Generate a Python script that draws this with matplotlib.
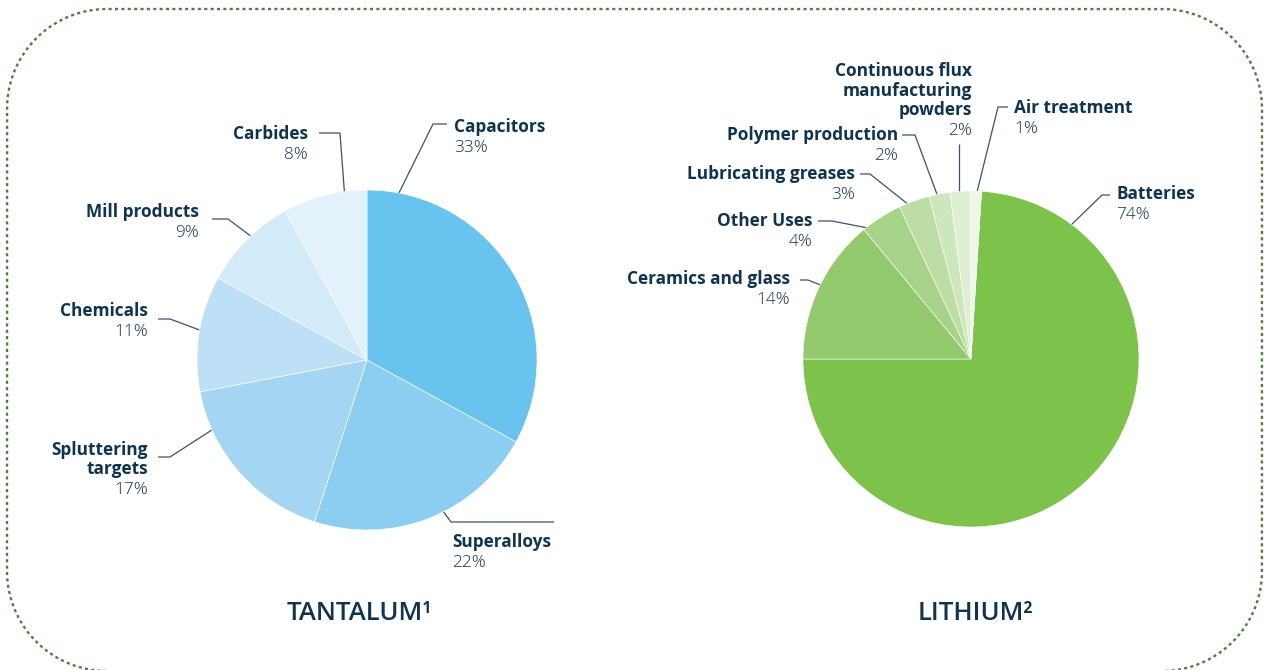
import numpy as np
import matplotlib.pyplot as plt

# data
ta_names = ['Capacitors', 'Superalloys', 'Spluttering\ntargets', 'Chemicals', 'Mill products', 'Carbides']
ta_values = [33, 22, 17, 11, 9, 8]
li_names = ['Batteries', 'Ceramics and glass', 'Other Uses', 'Lubricating greases',
            'Polymer production', 'Continuous flux\nmanufacturing\npowders', 'Air treatment']
li_values = [74, 14, 4, 3, 2, 2, 1]

ta_colors = ['#68C4EE', '#8BCEF1', '#A4D6F3', '#BEE0F6', '#D3EAF9', '#E3F1FB']
li_colors = ['#7DC24B', '#92C96C', '#A6D388', '#BCDEA5', '#CDE6BC', '#DEEFD3', '#EEF6E9']

NAVY = '#0E3450'
LINE = '#3E5266'
W, H = 1266, 670

plt.rcParams['font.family'] = ['Open Sans', 'DejaVu Sans']

fig = plt.figure(figsize=(W / 100, H / 100), dpi=100)
bg = fig.add_axes([0, 0, 1, 1])
bg.set_xlim(0, W)
bg.set_ylim(H, 0)
bg.axis('off')

# dotted rounded border (bottom edge sits just below the image)
R = 100
x0, x1, y0, y1 = 7, 1262, 9, 671


def arc(cx, cy, a0, a1):
    t = np.radians(np.linspace(a0, a1, 40))
    return list(cx + R * np.cos(t)), list(cy + R * np.sin(t))


bx, by = [], []
for cx, cy, a0, a1 in [(x0 + R, y1 - R, 90, 180), (x0 + R, y0 + R, 180, 270),
                       (x1 - R, y0 + R, 270, 360), (x1 - R, y1 - R, 0, 90)]:
    ax_, ay_ = arc(cx, cy, a0, a1)
    bx += ax_
    by += ay_
bg.plot(bx, by, color='#4F7F3F', lw=1.7, linestyle=(0, (1.3, 1.4)), clip_on=False)


def pie_axes(cx, cy, r):
    return fig.add_axes([(cx - r) / W, (H - cy - r) / H, 2 * r / W, 2 * r / H])


ax1 = pie_axes(367, 360, 170)
ax1.pie(ta_values, colors=ta_colors, startangle=90, counterclock=False, radius=1,
        wedgeprops=dict(edgecolor='white', linewidth=0.4))
ax1.set_xlim(-1, 1)
ax1.set_ylim(-1, 1)
ax1.axis('off')

ax2 = pie_axes(971, 359, 168)
ax2.pie(li_values, colors=li_colors, startangle=90 - li_values[-1] * 3.6, counterclock=False,
        radius=1, wedgeprops=dict(edgecolor='white', linewidth=0.4))
ax2.set_xlim(-1, 1)
ax2.set_ylim(-1, 1)
ax2.axis('off')

# label layout: text x, first line y, alignment, leader polyline
ta_layout = [
    (454, 127, 'left', [(395, 201), (433, 124), (447, 124)]),
    (452, 542, 'left', [(440, 507), (451, 522), (554, 522)]),
    (148, 450, 'right', [(218, 426), (170, 457), (158, 457)]),
    (148, 311, 'right', [(205, 332), (170, 319), (158, 319)]),
    (199, 212, 'right', [(252, 237), (228, 219), (212, 219)]),
    (308, 134, 'right', [(345, 200), (340, 133), (319, 133)]),
]
li_layout = [
    (1116, 194, 'left', [(1068, 228), (1102, 195), (1110, 195)]),
    (790, 279, 'right', [(828, 288), (808, 280), (800, 280)]),
    (812, 221, 'right', [(873, 229), (832, 221), (818, 221)]),
    (855, 174, 'right', [(909, 205), (870, 174), (860, 174)]),
    (898, 135, 'right', [(938, 197), (915, 135), (902, 135)]),
    (972, 71, 'right', [(959, 192), (959, 144)]),
    (1014, 108, 'left', [(977, 192), (998, 107), (1008, 107)]),
]


def draw_labels(names, values, layout):
    for name, val, (x, y, ha, pts) in zip(names, values, layout):
        xs = [p[0] for p in pts]
        ys = [p[1] for p in pts]
        bg.plot(xs, ys, color=LINE, lw=0.9, solid_capstyle='butt')
        lines = name.split('\n')
        for i, ln in enumerate(lines):
            bg.text(x, y + i * 19.5, ln, ha=ha, va='center', fontsize=12.4,
                    fontweight='bold', color=NAVY)
        bg.text(x, y + len(lines) * 19.5 + 1.5, f'{val}%', ha=ha, va='center',
                fontsize=12.4, fontweight='light', color=NAVY)


draw_labels(ta_names, ta_values, ta_layout)
draw_labels(li_names, li_values, li_layout)

bg.text(359, 613, 'TANTALUM\u00b9', ha='center', va='center', fontsize=18.5,
        fontweight='semibold', color=NAVY)
bg.text(976, 613, 'LITHIUM\u00b2', ha='center', va='center', fontsize=18.5,
        fontweight='semibold', color=NAVY)

fig.savefig('out.png', dpi=100)
